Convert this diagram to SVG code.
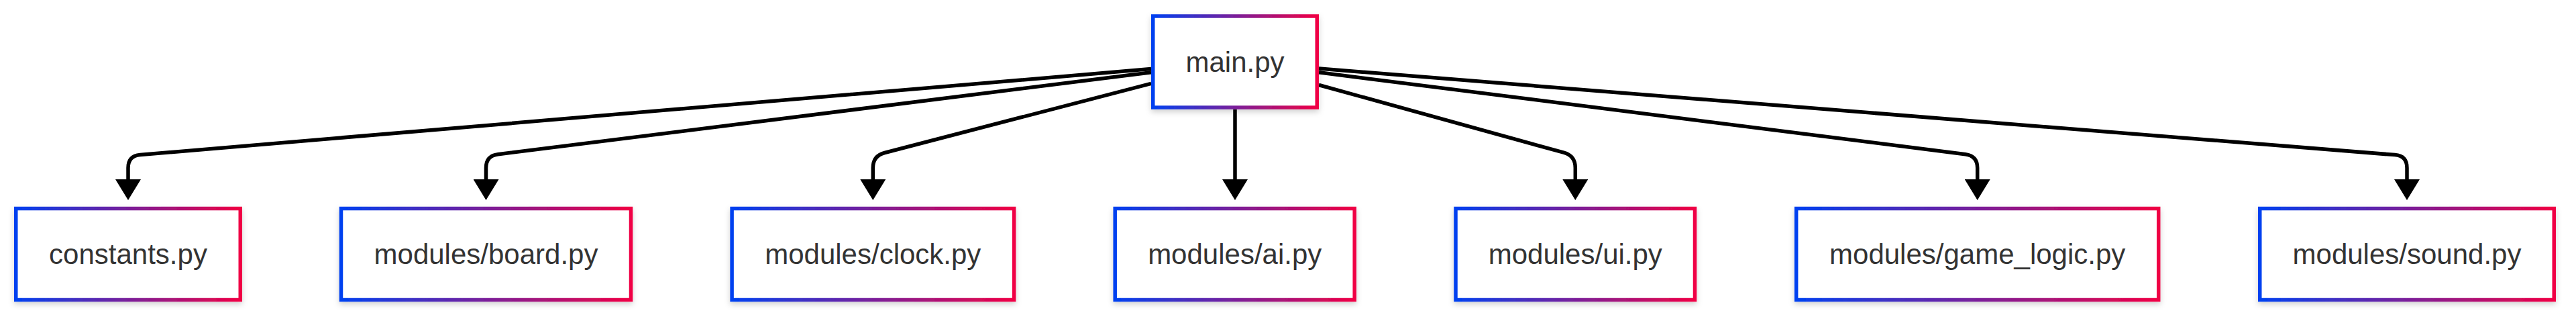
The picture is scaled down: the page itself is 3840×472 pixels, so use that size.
<svg xmlns="http://www.w3.org/2000/svg" width="3840" height="472" viewBox="0 0 3840 472">
<defs>
<linearGradient id="bd" x1="0" y1="0" x2="1" y2="0">
<stop offset="0" stop-color="#0040f0"/>
<stop offset="0.5" stop-color="#7a1f9a"/>
<stop offset="1" stop-color="#f00044"/>
</linearGradient>
<filter id="sh" x="-10%" y="-20%" width="120%" height="150%">
<feDropShadow dx="0" dy="4" stdDeviation="4" flood-color="#000" flood-opacity="0.18"/>
</filter>
<marker id="ah" markerUnits="userSpaceOnUse" viewBox="0 0 31 38" refX="0" refY="19" markerWidth="31" markerHeight="38" orient="auto">
<path d="M0,0 L31,19 L0,38 z" fill="#000"/>
</marker>
</defs>
<style>
.node rect{fill:#fff;stroke:url(#bd);stroke-width:5.5;filter:url(#sh)}
.node text{font-family:"Liberation Sans",Arial,sans-serif;font-size:42px;fill:#333;text-anchor:middle}
.edges path{fill:none;stroke:#000;stroke-width:5.5;marker-end:url(#ah)}
</style>
<g id="connectors" class="edges">
<path d="M1716,102.6 L208.9,230.5 Q191,232 191,250 L191,267"/>
<path d="M1716,107.7 L742.4,229.8 Q724.5,232 724.5,250 L724.5,267"/>
<path d="M1716,124.4 L1318.7,227.5 Q1301.3,232 1301.3,250 L1301.3,267"/>
<path d="M1841,162.7 L1841,267"/>
<path d="M1966,126.5 L2331,227.2 Q2348.3,232 2348.3,250 L2348.3,267"/>
<path d="M1966,107.8 L2929.8,229.7 Q2947.7,232 2947.7,250 L2947.7,267"/>
<path d="M1966,102 L3570.1,230.6 Q3588,232 3588,250 L3588,267"/>
</g>
<g id="main" class="node"><rect x="1718.75" y="24" width="244.5" height="136"/><text x="1841" y="107">main.py</text></g>
<g id="constants" class="node"><rect x="23.75" y="310.5" width="334.5" height="136"/><text x="191" y="393">constants.py</text></g>
<g id="board" class="node"><rect x="508.5" y="310.5" width="432" height="136"/><text x="724.5" y="393">modules/board.py</text></g>
<g id="clock" class="node"><rect x="1091.1" y="310.5" width="420.5" height="136"/><text x="1301.3" y="393">modules/clock.py</text></g>
<g id="ai" class="node"><rect x="1662.2" y="310.5" width="357" height="136"/><text x="1840.7" y="393">modules/ai.py</text></g>
<g id="ui" class="node"><rect x="2170" y="310.5" width="356.5" height="136"/><text x="2348.3" y="393">modules/ui.py</text></g>
<g id="game_logic" class="node"><rect x="2677.7" y="310.5" width="540" height="136"/><text x="2947.7" y="393">modules/game_logic.py</text></g>
<g id="sound" class="node"><rect x="3368.75" y="310.5" width="438.5" height="136"/><text x="3588" y="393">modules/sound.py</text></g>
</svg>
